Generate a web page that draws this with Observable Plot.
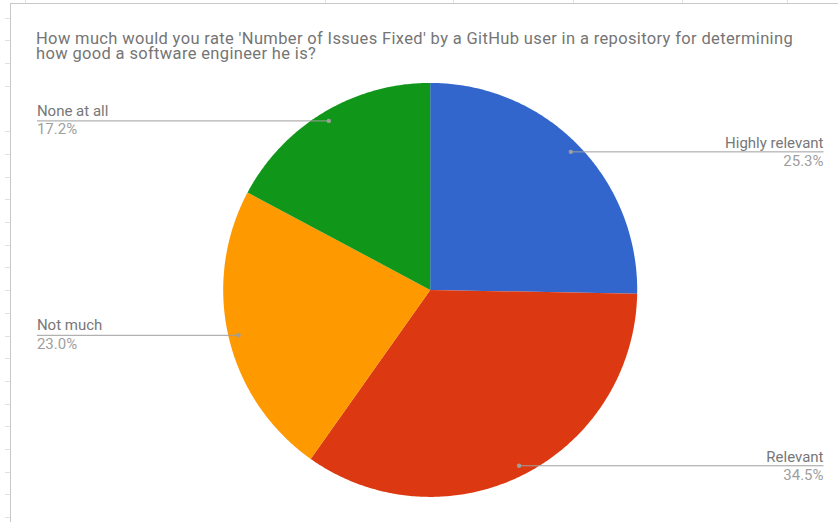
<!DOCTYPE html>
<html>
<head>
<meta charset="utf-8">
<script src="https://cdn.jsdelivr.net/npm/d3@7"></script>
<script src="https://cdn.jsdelivr.net/npm/@observablehq/plot@0.6"></script>
<style>
  html, body { margin: 0; padding: 0; background: #fff; }
  #wrap { position: relative; width: 838px; height: 522px; overflow: hidden; font-family: Roboto, "Noto Sans", sans-serif; }
  #frame { position: absolute; left: 10px; top: 3px; right: -2px; bottom: -2px; border-left: 1px solid #c8c8c8; border-top: 1px solid #c8c8c8; }
  #lticks { position: absolute; left: 5px; top: 0; width: 5px; height: 522px;
    background: repeating-linear-gradient(to bottom, transparent 0px, transparent 21.7px, #e0e0e0 21.7px, #e0e0e0 22.7px);
    background-position: 0 -4px; }
  .tt { position: absolute; top: 0; width: 1px; height: 3px; background: #e0e0e0; }
  .tl { position: absolute; left: 36px; font-size: 16.5px; letter-spacing: 0.35px; line-height: 16px; color: #757575; white-space: nowrap; font-family: Roboto, "Noto Sans", sans-serif; }
  #chart { position: absolute; left: 0; top: 0; }
</style>
</head>
<body>
<div id="wrap">
  <div id="lticks"></div>
  <div class="tt" style="left:25px"></div>
  <div class="tt" style="left:325px"></div>
  <div class="tt" style="left:453px"></div>
  <div class="tt" style="left:573px"></div>
  <div class="tt" style="left:682px"></div>
  <div class="tt" style="left:787px"></div>
  <div id="frame"></div>
  <div id="chart"></div>
  <div class="tl" style="top:30.6px">How much would you rate 'Number of Issues Fixed' by a GitHub user in a repository for determining</div>
  <div class="tl" style="top:46.4px">how good a software engineer he is?</div>
</div>
<script>
// ---- data ----
const categories = ["Highly relevant", "Relevant", "Not much", "None at all"];
const shares = [25.3, 34.5, 23.0, 17.2];
const percentLabels = ["25.3%", "34.5%", "23.0%", "17.2%"];
const colors = ["#3366cc", "#dc3912", "#ff9900", "#109618"];

// ---- geometry (unit circle, y up) ----
const arcs = d3.pie().sort(null).value(d => d)(shares);
const slicePts = [];
arcs.forEach((a, i) => {
  slicePts.push({cat: categories[i], x: 0, y: 0});
  const n = Math.max(2, Math.ceil((a.endAngle - a.startAngle) / 0.01));
  for (let k = 0; k <= n; k++) {
    const t = a.startAngle + (a.endAngle - a.startAngle) * k / n;
    slicePts.push({cat: categories[i], x: Math.sin(t), y: Math.cos(t)});
  }
});

const dotFrac = 0.952;
const reach = 1.90;
const labels = arcs.map((a, i) => {
  const m = (a.startAngle + a.endAngle) / 2;
  const dx = Math.sin(m) * dotFrac, dy = Math.cos(m) * dotFrac;
  const right = dx >= 0;
  return {cat: categories[i], pct: percentLabels[i], x1: dx, y1: dy, x2: right ? reach : -reach, right};
});
const rightLabels = labels.filter(d => d.right);
const leftLabels = labels.filter(d => !d.right);

const cx = 429.7, cy = 289.4, r = 207;

const chart = Plot.plot({
  width: 838,
  height: 522,
  margin: 0,
  style: {fontFamily: "Roboto, 'Noto Sans', sans-serif", background: "transparent"},
  x: {domain: [-1, 1], range: [cx - r, cx + r], axis: null},
  y: {domain: [-1, 1], range: [cy + r, cy - r], axis: null},
  color: {domain: categories, range: colors},
  marks: [
    Plot.line(slicePts, {x: "x", y: "y", z: "cat", fill: "cat", stroke: "none", curve: "linear-closed"}),
    Plot.link(labels, {x1: "x1", y1: "y1", x2: "x2", y2: "y1", stroke: "#9e9e9e", strokeWidth: 1}),
    Plot.dot(labels, {x: "x1", y: "y1", r: 2.2, fill: "#9e9e9e", stroke: "none"}),
    Plot.text(rightLabels, {x: "x2", y: "y1", text: "cat", textAnchor: "end", lineAnchor: "bottom", dy: -4, fontSize: 15, fill: "#777"}),
    Plot.text(rightLabels, {x: "x2", y: "y1", text: "pct", textAnchor: "end", lineAnchor: "bottom", dy: 14, fontSize: 15, fill: "#a0a0a0"}),
    Plot.text(leftLabels, {x: "x2", y: "y1", text: "cat", textAnchor: "start", lineAnchor: "bottom", dy: -5, fontSize: 15, fill: "#777"}),
    Plot.text(leftLabels, {x: "x2", y: "y1", text: "pct", textAnchor: "start", lineAnchor: "bottom", dy: 13.5, fontSize: 15, fill: "#a0a0a0"})
  ]
});
document.getElementById("chart").appendChild(chart);
</script>
</body>
</html>
